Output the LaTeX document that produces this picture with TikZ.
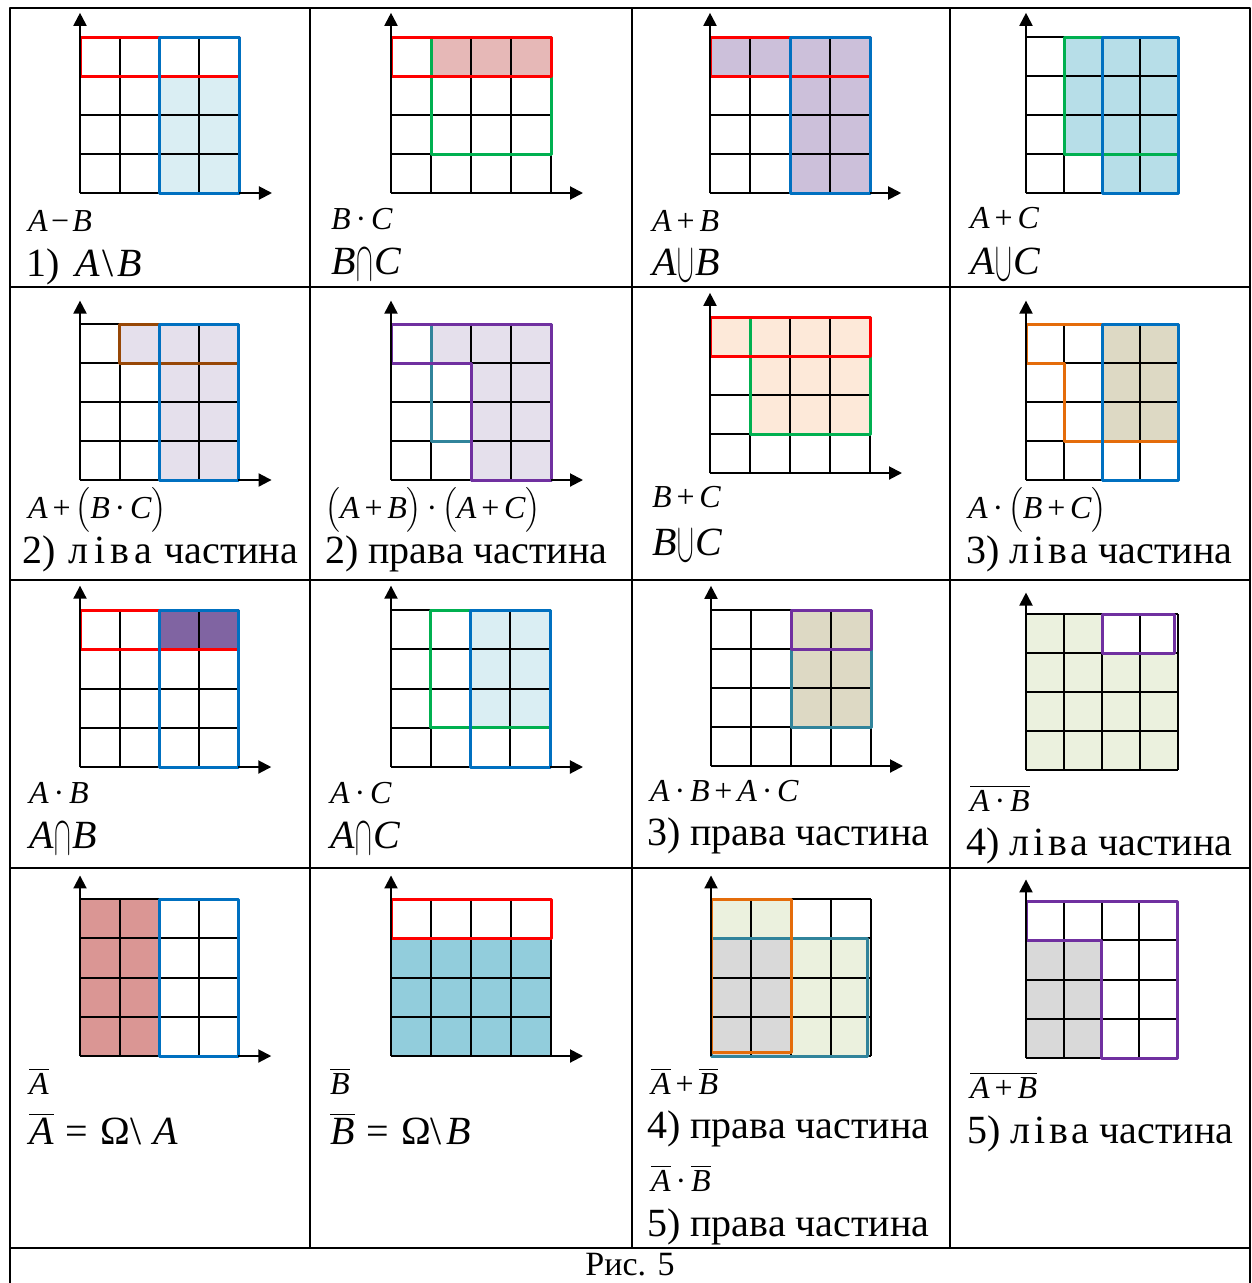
\documentclass[tikz,border=0pt]{standalone}
\usepackage{fix-cm}
\usepackage{amsmath}
\usepackage{graphicx}
\usepackage{fontspec}
\setmainfont{Liberation Serif}
\usetikzlibrary{arrows.meta}
\newcommand{\eA}{\textit{A}}
\newcommand{\eB}{\textit{B}}
\newcommand{\eC}{\textit{C}}
\newcommand{\nA}{$\overline{\mbox{\eA}}$}
\newcommand{\nB}{$\overline{\mbox{\eB}}$}
\newcommand{\pl}{\kern0.15em+\kern0.15em}
\newcommand{\dt}{\kern0.15em·\kern0.15em}
\newcommand{\un}{\kern0.03em\raisebox{-0.17em}{\scalebox{0.62}[1.4]{$\cup$}}\kern0.03em}
\newcommand{\is}{\kern0.03em\raisebox{-0.17em}{\scalebox{0.62}[1.4]{$\cap$}}\kern0.03em}
\newcommand{\liva}{{\addfontfeature{LetterSpace=10}ліва}}
\begin{document}
\begin{tikzpicture}[x=1pt, y=-1pt, line join=round,
  tableline/.style={line width=2.5pt},
  gridline/.style={line width=2pt},
  axisline/.style={line width=2pt, -{Triangle[length=13pt,width=13pt]}},
  rim/.style={line width=3pt},
  setA/.style={rim, draw={rgb,255:red,0;green,112;blue,192}},
  setB/.style={rim, draw={rgb,255:red,255;green,0;blue,0}},
  setC/.style={rim, draw={rgb,255:red,0;green,176;blue,80}},
  rimbrown/.style={rim, draw={rgb,255:red,151;green,71;blue,6}},
  rimpurple/.style={rim, draw={rgb,255:red,112;green,48;blue,160}},
  rimteal/.style={rim, draw={rgb,255:red,49;green,132;blue,155}},
  rimorange/.style={rim, draw={rgb,255:red,228;green,108;blue,10}},
  paleblue/.style={fill={rgb,255:red,218;green,238;blue,243}},
  rosy/.style={fill={rgb,255:red,230;green,184;blue,183}},
  lilac/.style={fill={rgb,255:red,204;green,192;blue,218}},
  skyblue/.style={fill={rgb,255:red,183;green,222;blue,232}},
  palelilac/.style={fill={rgb,255:red,229;green,224;blue,236}},
  peach/.style={fill={rgb,255:red,253;green,233;blue,217}},
  khaki/.style={fill={rgb,255:red,221;green,217;blue,196}},
  plum/.style={fill={rgb,255:red,128;green,100;blue,162}},
  palegreen/.style={fill={rgb,255:red,235;green,241;blue,222}},
  dustrose/.style={fill={rgb,255:red,218;green,150;blue,148}},
  teallight/.style={fill={rgb,255:red,146;green,205;blue,220}},
  greyish/.style={fill={rgb,255:red,217;green,217;blue,217}},
  formula/.style={anchor=base west, inner sep=0pt, text depth=1pt, font=\fontsize{32}{38}\selectfont},
  wording/.style={anchor=base west, inner sep=0pt, text height=28pt, font=\fontsize{40}{48}\selectfont}]
\useasboundingbox (0,0) rectangle (1252,1283);
\fill[white] (0,0) rectangle (1252,1283);

% table
\draw[tableline] (10,8) rectangle (1250,1295);
\draw[tableline] (10,287)--(1250,287);
\draw[tableline] (10,580)--(1250,580);
\draw[tableline] (10,868)--(1250,868);
\draw[tableline] (10,1248)--(1250,1248);
\draw[tableline] (310,8)--(310,1248);
\draw[tableline] (632,8)--(632,1248);
\draw[tableline] (950,8)--(950,1248);

% row 1
\begin{scope}[shift={(80,193)}, x=39.75pt, y=39pt]
\fill[paleblue] (2,0) rectangle (4,3);
\draw[gridline, step=1] (0,0) grid (4,4);
\draw[setB] (0,3) rectangle (4,4);
\draw[setA] (2,0) rectangle (4,4);
\draw[axisline] (0,0)--(0,4.62); \draw[axisline] (4,0)--(4.83,0);
\end{scope}
\node[formula] (f1) at (28,231) {\eA\kern0.1em−\kern0.1em\eB};
\node[wording] (w1) at (26,276) {1)\hspace{0.4em}\eA\kern0.05em\textbackslash\kern0.1em\eB};

\begin{scope}[shift={(391,193)}, x=40pt, y=39pt]
\fill[rosy] (1,3) rectangle (4,4);
\draw[gridline, step=1] (0,0) grid (4,4);
\draw[setC] (1,1) rectangle (4,4);
\draw[setB] (0,3) rectangle (4,4);
\draw[axisline] (0,0)--(0,4.62); \draw[axisline] (4,0)--(4.8,0);
\end{scope}
\node[formula] (f2) at (331,229) {\eB\dt\eC};
\node[wording] (w2) at (331,274) {\eB\is\eC};

\begin{scope}[shift={(710,193)}, x=40pt, y=39pt]
\fill[lilac] (0,3) rectangle (4,4); \fill[lilac] (2,0) rectangle (4,3);
\draw[gridline, step=1] (0,0) grid (4,4);
\draw[setB] (0,3) rectangle (4,4);
\draw[setA] (2,0) rectangle (4,4);
\draw[axisline] (0,0)--(0,4.62); \draw[axisline] (4,0)--(4.78,0);
\end{scope}
\node[formula] (f3) at (652,231) {\eA\pl\eB};
\node[wording] (w3) at (652,275) {\eA\un\eB};

\begin{scope}[shift={(1026,193)}, x=38pt, y=39pt]
\fill[skyblue] (1,1) rectangle (4,4); \fill[skyblue] (2,0) rectangle (4,1);
\draw[gridline, step=1] (0,0) grid (4,4);
\draw[setC] (1,1) rectangle (4,4);
\draw[setA] (2,0) rectangle (4,4);
\draw[axisline] (0,0)--(0,4.62);
\end{scope}
\node[formula] (f4) at (970,228) {\eA\pl\eC};
\node[wording] (w4) at (970,274) {\eA\un\eC};

% row 2
\begin{scope}[shift={(80,480)}, x=39.5pt, y=39pt]
\fill[palelilac] (1,3) rectangle (4,4); \fill[palelilac] (2,0) rectangle (4,3);
\draw[gridline, step=1] (0,0) grid (4,4);
\draw[rimbrown] (1,3) rectangle (4,4);
\draw[setA] (2,0) rectangle (4,4);
\draw[axisline] (0,0)--(0,4.6); \draw[axisline] (4,0)--(4.85,0);
\end{scope}
\node[formula] (f5) at (28,518) {\eA\pl$\big($\eB\dt\eC$\big)$};
\node[wording] (w5) at (22,563) {2)\hspace{13pt}{\addfontfeature{LetterSpace=14}ліва}\hspace{12pt}частина};

\begin{scope}[shift={(391,480)}, x=40pt, y=39pt]
\fill[palelilac] (1,3) rectangle (4,4); \fill[palelilac] (2,0) rectangle (4,3);
\draw[gridline, step=1] (0,0) grid (4,4);
\draw[rimteal] (1,4)--(4,4)--(4,0)--(2,0)--(2,1)--(1,1)--cycle;
\draw[rimpurple] (0,4)--(4,4)--(4,0)--(2,0)--(2,3)--(0,3)--cycle;
\draw[axisline] (0,0)--(0,4.6); \draw[axisline] (4,0)--(4.8,0);
\end{scope}
\node[formula] (f6) at (325,518) {$\big($\eA\pl\eB$\big)$\dt$\big($\eA\pl\eC$\big)$};
\node[wording] (w6) at (325,563) {2) права частина};

\begin{scope}[shift={(710,473)}, x=40pt, y=39pt]
\fill[peach] (0,3) rectangle (4,4); \fill[peach] (1,1) rectangle (4,3);
\draw[gridline, step=1] (0,0) grid (4,4);
\draw[setC] (1,1) rectangle (4,4);
\draw[setB] (0,3) rectangle (4,4);
\draw[axisline] (0,0)--(0,4.62); \draw[axisline] (4,0)--(4.8,0);
\end{scope}
\node[formula] (f7) at (652,507) {\eB\pl\eC};
\node[wording] (w7) at (652,555) {\eB\un\eC};

\begin{scope}[shift={(1026,480)}, x=38pt, y=39pt]
\fill[khaki] (2,1) rectangle (4,4);
\draw[gridline, step=1] (0,0) grid (4,4);
\draw[rimorange] (0,4)--(4,4)--(4,1)--(1,1)--(1,3)--(0,3)--cycle;
\draw[setA] (2,0) rectangle (4,4);
\draw[axisline] (0,0)--(0,4.6);
\end{scope}
\node[formula] (f8) at (968,518) {\eA\dt$\big($\eB\pl\eC$\big)$};
\node[wording] (w8) at (966,563) {3)\hspace{10pt}\liva\hspace{10pt}частина};

% row 3
\begin{scope}[shift={(80,767)}, x=39.6pt, y=39.25pt]
\fill[plum] (2,3) rectangle (4,4);
\draw[gridline, step=1] (0,0) grid (4,4);
\draw[setB] (0,3) rectangle (4,4);
\draw[setA] (2,0) rectangle (4,4);
\draw[axisline] (0,0)--(0,4.62); \draw[axisline] (4,0)--(4.83,0);
\end{scope}
\node[formula] (f9) at (29,803) {\eA\dt\eB};
\node[wording] (w9) at (29,848) {\eA\is\eB};

\begin{scope}[shift={(391,767)}, x=39.75pt, y=39.25pt]
\fill[paleblue] (2,1) rectangle (4,4);
\draw[gridline, step=1] (0,0) grid (4,4);
\draw[setC] (1,1) rectangle (4,4);
\draw[setA] (2,0) rectangle (4,4);
\draw[axisline] (0,0)--(0,4.62); \draw[axisline] (4,0)--(4.83,0);
\end{scope}
\node[formula] (f10) at (330,803) {\eA\dt\eC};
\node[wording] (w10) at (330,848) {\eA\is\eC};

\begin{scope}[shift={(711,766)}, x=40pt, y=39pt]
\fill[khaki] (2,1) rectangle (4,4);
\draw[gridline, step=1] (0,0) grid (4,4);
\draw[rimteal] (2,1) rectangle (4,4);
\draw[rimpurple] (2,3) rectangle (4,4);
\draw[axisline] (0,0)--(0,4.62); \draw[axisline] (4,0)--(4.8,0);
\end{scope}
\node[formula] (f11) at (650,801) {\eA\dt\eB\pl\eA\dt\eC};
\node[wording] (w11) at (647,845) {3) права частина};

\begin{scope}[shift={(1026,770)}, x=38pt, y=39pt]
\fill[palegreen] (0,0) rectangle (4,4); \fill[white] (2,3) rectangle (4,4);
\draw[gridline, step=1] (0,0) grid (4,4);
\draw[rimpurple] (2,3) rectangle (3.9,4);
\draw[axisline] (0,0)--(0,4.55);
\end{scope}
\node[formula] (f12) at (970,811) {$\overline{\mbox{\eA\dt\eB}}$};
\node[wording] (w12) at (966,855) {4)\hspace{10pt}\liva\hspace{10pt}частина};

% row 4
\begin{scope}[shift={(80,1056)}, x=39.6pt, y=39.25pt]
\fill[dustrose] (0,0) rectangle (2,4);
\draw[gridline, step=1] (0,0) grid (4,4);
\draw[setA] (2,0) rectangle (4,4);
\draw[axisline] (0,0)--(0,4.6); \draw[axisline] (4,0)--(4.83,0);
\end{scope}
\node[formula] (f13) at (29,1094) {\nA};
\node[wording] (w13) at (29,1144) {\nA\kern0.3em=\kern0.3em Ω\textbackslash\kern0.3em\eA};

\begin{scope}[shift={(391,1056)}, x=40pt, y=39.25pt]
\fill[teallight] (0,0) rectangle (4,3);
\draw[gridline, step=1] (0,0) grid (4,4);
\draw[setB] (0,3) rectangle (4,4);
\draw[axisline] (0,0)--(0,4.6); \draw[axisline] (4,0)--(4.8,0);
\end{scope}
\node[formula] (f14) at (330,1094) {\nB};
\node[wording] (w14) at (330,1144) {\nB\kern0.3em=\kern0.3em Ω\textbackslash\kern0.1em\eB};

\begin{scope}[shift={(711,1056)}, x=40pt, y=39.25pt]
\fill[palegreen] (0,3) rectangle (2,4); \fill[palegreen] (2,0) rectangle (4,3);
\fill[greyish] (0,0) rectangle (2,3);
\draw[gridline, step=1] (0,0) grid (4,4);
\draw[rimteal] (0,0) rectangle (3.92,3);
\draw[rimorange] (0,0.1) rectangle (2,4);
\draw[axisline] (0,0)--(0,4.6);
\end{scope}
\node[formula] (f15) at (651,1094) {\nA\pl\nB};
\node[wording] (w15) at (647,1138) {4) права частина};
\node[formula] (g15) at (651,1191) {\nA\dt\nB};
\node[wording] (v15) at (647,1236) {5) права частина};

\begin{scope}[shift={(1026,1058)}, x=37.75pt, y=39.25pt]
\fill[greyish] (0,0) rectangle (2,3);
\draw[gridline, step=1] (0,0) grid (4,4);
\draw[rimpurple] (0,4)--(4,4)--(4,0)--(2,0)--(2,3)--(0,3)--cycle;
\draw[axisline] (0,0)--(0,4.55);
\end{scope}
\node[formula] (f16) at (970,1098) {$\overline{\mbox{\eA\pl\eB}}$};
\node[wording] (w16) at (967,1143) {5)\hspace{10pt}\liva\hspace{10pt}частина};

\node[anchor=base, inner sep=0pt, font=\fontsize{34}{40}\selectfont] (cap) at (630,1275) {Рис. 5};

\end{tikzpicture}
\end{document}
